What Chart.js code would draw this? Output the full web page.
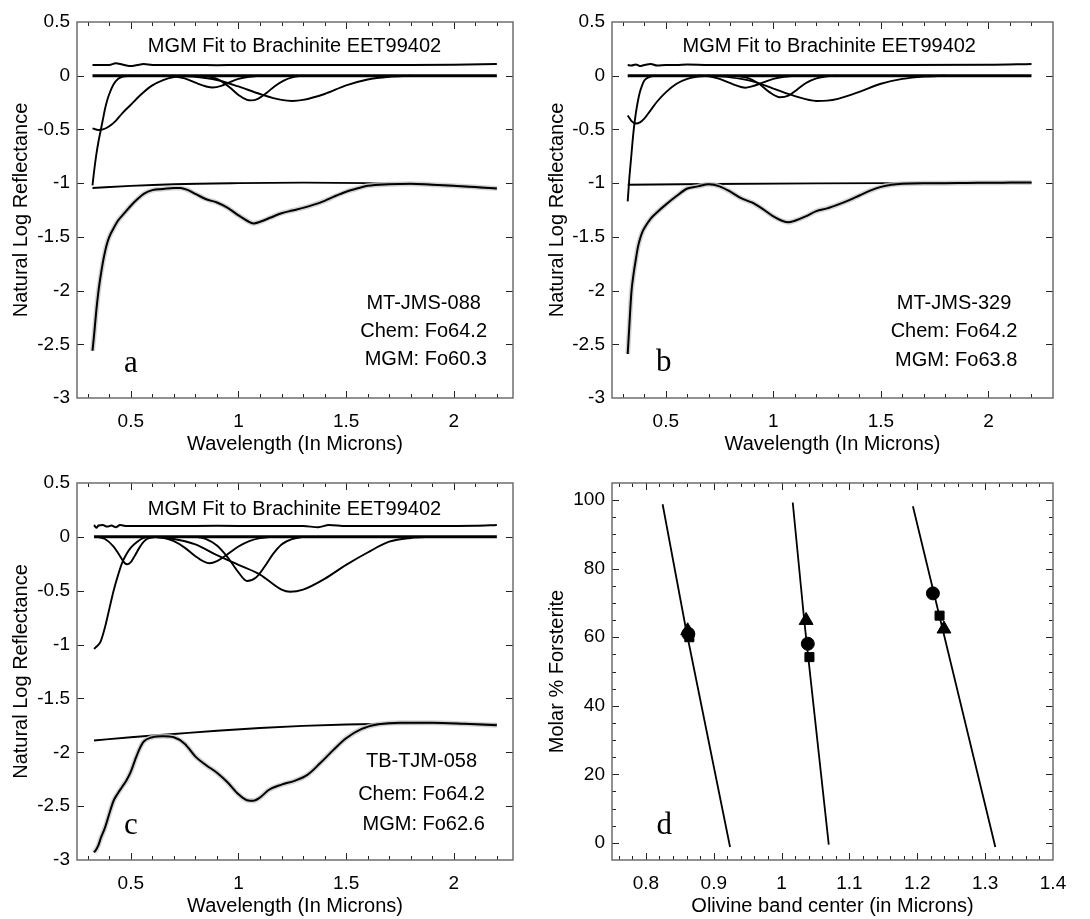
<!DOCTYPE html>
<html>
<head>
<meta charset="utf-8">
<script src="https://cdn.jsdelivr.net/npm/chart.js@4.4.0/dist/chart.umd.min.js"></script>
<style>
  html, body { margin: 0; padding: 0; background: #fff; width: 1090px; height: 919px; overflow: hidden; }
  canvas { position: absolute; }
</style>
</head>
<body>
<canvas id="chartA" width="545" height="462" style="left:0;top:0;width:545px;height:462px"></canvas>
<canvas id="chartB" width="545" height="462" style="left:545px;top:0;width:545px;height:462px"></canvas>
<canvas id="chartC" width="545" height="470" style="left:0;top:455px;width:545px;height:470px"></canvas>
<canvas id="chartD" width="545" height="470" style="left:545px;top:455px;width:545px;height:470px"></canvas>
<script>
const FONT = "'Liberation Sans', Arial, Helvetica, sans-serif";
const SERIF = "'Liberation Serif', 'Times New Roman', serif";

// tick labels
const wlTicks = [0.5, 1, 1.5, 2];
const lnTicks = [-3, -2.5, -2, -1.5, -1, -0.5, 0, 0.5];
const bandTicks = [0.8, 0.9, 1, 1.1, 1.2, 1.3, 1.4];
const foTicks = [0, 20, 40, 60, 80, 100];

// ---- panel a : MT-JMS-088 ----
const aSpecWl = [0.322, 0.33, 0.34, 0.35, 0.36, 0.37, 0.38, 0.39, 0.40, 0.42, 0.44, 0.47, 0.50, 0.53, 0.56, 0.60, 0.65, 0.70, 0.73, 0.76, 0.80, 0.85, 0.90, 0.95, 1.00, 1.04, 1.07, 1.10, 1.15, 1.20, 1.25, 1.30, 1.35, 1.40, 1.45, 1.50, 1.55, 1.60, 1.70, 1.80, 1.90, 2.00, 2.10, 2.20];
const aSpecVal = [-2.56, -2.40, -2.18, -2.00, -1.86, -1.74, -1.64, -1.56, -1.50, -1.42, -1.35, -1.28, -1.21, -1.15, -1.10, -1.065, -1.055, -1.045, -1.045, -1.06, -1.10, -1.15, -1.18, -1.23, -1.30, -1.35, -1.375, -1.36, -1.32, -1.28, -1.255, -1.23, -1.20, -1.165, -1.12, -1.08, -1.05, -1.025, -1.01, -1.005, -1.015, -1.025, -1.035, -1.05];
const aContWl = [0.322, 0.5, 0.7, 1.0, 1.3, 1.6, 1.9, 2.2];
const aContVal = [-1.045, -1.025, -1.01, -1.0, -0.995, -1.0, -1.015, -1.05];
const aResWl = [0.322, 0.36, 0.40, 0.43, 0.45, 0.48, 0.50, 0.53, 0.56, 0.60, 0.70, 0.80, 0.90, 1.0, 1.2, 1.4, 1.6, 1.8, 2.0, 2.2];
const aResVal = [0.10, 0.10, 0.10, 0.115, 0.11, 0.095, 0.09, 0.10, 0.108, 0.10, 0.10, 0.10, 0.098, 0.10, 0.10, 0.10, 0.10, 0.10, 0.102, 0.11];
const aUvWl = [0.322, 0.33, 0.34, 0.35, 0.36, 0.37, 0.38, 0.39, 0.40, 0.42, 0.44, 0.46, 0.50];
const aUvVal = [-1.02, -0.88, -0.73, -0.61, -0.51, -0.41, -0.31, -0.23, -0.17, -0.08, -0.03, -0.01, 0];
const aB036Wl = [0.322, 0.35, 0.37, 0.40, 0.43, 0.46, 0.50, 0.55, 0.60, 0.65, 0.70, 0.75];
const aB036Val = [-0.49, -0.505, -0.50, -0.47, -0.42, -0.35, -0.27, -0.17, -0.09, -0.04, -0.012, 0];
const aB087Wl = [0.65, 0.70, 0.75, 0.80, 0.85, 0.88, 0.92, 0.96, 1.0, 1.05, 1.1];
const aB087Val = [0, -0.005, -0.025, -0.065, -0.10, -0.11, -0.095, -0.06, -0.03, -0.01, 0];
const aB105Wl = [0.82, 0.88, 0.92, 0.96, 1.0, 1.04, 1.06, 1.09, 1.13, 1.17, 1.21, 1.25, 1.3];
const aB105Val = [0, -0.015, -0.05, -0.11, -0.18, -0.225, -0.23, -0.215, -0.16, -0.095, -0.045, -0.015, 0];
const aB124Wl = [0.7, 0.8, 0.9, 1.0, 1.1, 1.2, 1.25, 1.3, 1.4, 1.5, 1.6, 1.7, 1.8];
const aB124Val = [0, -0.01, -0.04, -0.10, -0.17, -0.225, -0.235, -0.225, -0.17, -0.09, -0.035, -0.01, 0];

// ---- panel b : MT-JMS-329 ----
const bSpecWl = [0.323, 0.33, 0.34, 0.35, 0.36, 0.37, 0.38, 0.39, 0.40, 0.43, 0.46, 0.50, 0.55, 0.60, 0.65, 0.70, 0.75, 0.80, 0.85, 0.90, 0.95, 1.00, 1.04, 1.07, 1.10, 1.15, 1.20, 1.25, 1.30, 1.35, 1.40, 1.45, 1.50, 1.55, 1.60, 1.70, 1.80, 1.90, 2.00, 2.10, 2.20];
const bSpecVal = [-2.59, -2.35, -2.02, -1.85, -1.72, -1.60, -1.52, -1.46, -1.42, -1.33, -1.27, -1.20, -1.12, -1.05, -1.03, -1.01, -1.03, -1.08, -1.14, -1.18, -1.24, -1.31, -1.35, -1.365, -1.35, -1.31, -1.26, -1.235, -1.20, -1.16, -1.115, -1.07, -1.035, -1.015, -1.005, -1.0, -1.0, -0.998, -0.997, -0.995, -0.993];
const bContWl = [0.323, 0.7, 1.2, 1.7, 2.2];
const bContVal = [-1.015, -1.008, -1.002, -0.999, -0.996];
const bResWl = [0.323, 0.34, 0.36, 0.38, 0.40, 0.43, 0.46, 0.50, 0.55, 0.60, 0.70, 1.0, 1.5, 2.0, 2.2];
const bResVal = [0.10, 0.095, 0.105, 0.09, 0.10, 0.11, 0.095, 0.10, 0.10, 0.105, 0.10, 0.10, 0.10, 0.102, 0.11];
const bUvWl = [0.323, 0.33, 0.34, 0.35, 0.36, 0.37, 0.38, 0.39, 0.40, 0.42, 0.45];
const bUvVal = [-1.17, -0.97, -0.74, -0.52, -0.36, -0.24, -0.15, -0.09, -0.045, -0.015, 0];
const bB036Wl = [0.323, 0.34, 0.36, 0.38, 0.40, 0.43, 0.46, 0.50, 0.55, 0.60, 0.65, 0.70];
const bB036Val = [-0.37, -0.42, -0.445, -0.435, -0.40, -0.32, -0.24, -0.155, -0.075, -0.03, -0.008, 0];
const bB087Wl = [0.65, 0.70, 0.75, 0.80, 0.85, 0.87, 0.90, 0.95, 1.0, 1.05, 1.1];
const bB087Val = [0, -0.005, -0.03, -0.07, -0.105, -0.112, -0.10, -0.065, -0.03, -0.01, 0];
const bB105Wl = [0.82, 0.88, 0.93, 0.98, 1.03, 1.07, 1.11, 1.15, 1.2, 1.25, 1.3];
const bB105Val = [0, -0.02, -0.07, -0.15, -0.20, -0.185, -0.13, -0.07, -0.025, -0.005, 0];
const bB124Wl = [0.7, 0.8, 0.9, 1.0, 1.1, 1.2, 1.25, 1.3, 1.4, 1.5, 1.6, 1.7, 1.8];
const bB124Val = [0, -0.015, -0.05, -0.12, -0.19, -0.235, -0.232, -0.215, -0.15, -0.075, -0.03, -0.008, 0];

// ---- panel c : TB-TJM-058 ----
const cSpecWl = [0.329, 0.34, 0.35, 0.36, 0.38, 0.40, 0.42, 0.44, 0.46, 0.48, 0.50, 0.52, 0.54, 0.56, 0.60, 0.65, 0.70, 0.75, 0.80, 0.85, 0.90, 0.95, 1.00, 1.04, 1.07, 1.10, 1.14, 1.20, 1.26, 1.32, 1.38, 1.44, 1.50, 1.57, 1.65, 1.75, 1.90, 2.05, 2.20];
const cSpecVal = [-2.93, -2.90, -2.86, -2.80, -2.70, -2.57, -2.45, -2.38, -2.32, -2.26, -2.18, -2.07, -1.97, -1.90, -1.86, -1.85, -1.86, -1.92, -2.04, -2.12, -2.19, -2.28, -2.39, -2.445, -2.45, -2.42, -2.35, -2.30, -2.265, -2.21, -2.10, -1.98, -1.87, -1.785, -1.74, -1.725, -1.725, -1.735, -1.75];
const cContWl = [0.329, 0.5, 0.7, 0.9, 1.1, 1.3, 1.5, 1.7, 1.9, 2.2];
const cContVal = [-1.89, -1.86, -1.83, -1.80, -1.775, -1.755, -1.742, -1.735, -1.732, -1.74];
const cResWl = [0.329, 0.34, 0.35, 0.37, 0.39, 0.41, 0.43, 0.45, 0.48, 0.55, 0.7, 0.9, 1.1, 1.3, 1.37, 1.42, 1.5, 1.7, 1.9, 2.1, 2.2];
const cResVal = [0.11, 0.085, 0.105, 0.11, 0.095, 0.105, 0.09, 0.11, 0.10, 0.10, 0.10, 0.102, 0.10, 0.10, 0.09, 0.11, 0.10, 0.10, 0.10, 0.102, 0.11];
const cUvWl = [0.329, 0.34, 0.35, 0.36, 0.38, 0.40, 0.42, 0.44, 0.46, 0.48, 0.50, 0.53, 0.56, 0.60];
const cUvVal = [-1.04, -1.02, -1.0, -0.97, -0.84, -0.67, -0.50, -0.36, -0.24, -0.16, -0.10, -0.045, -0.01, 0];
const cB048Wl = [0.34, 0.38, 0.42, 0.45, 0.47, 0.485, 0.50, 0.52, 0.54, 0.56, 0.58, 0.62];
const cB048Val = [0, -0.02, -0.09, -0.18, -0.24, -0.255, -0.235, -0.17, -0.10, -0.045, -0.015, 0];
const cB087Wl = [0.6, 0.65, 0.70, 0.75, 0.80, 0.84, 0.865, 0.90, 0.95, 1.0, 1.05, 1.1, 1.15];
const cB087Val = [0, -0.01, -0.04, -0.10, -0.18, -0.23, -0.245, -0.225, -0.16, -0.09, -0.04, -0.012, 0];
const cB105Wl = [0.8, 0.85, 0.9, 0.95, 1.0, 1.04, 1.08, 1.12, 1.16, 1.2, 1.25, 1.3];
const cB105Val = [0, -0.02, -0.08, -0.19, -0.33, -0.41, -0.38, -0.28, -0.16, -0.07, -0.02, 0];
const cB124Wl = [0.6, 0.7, 0.8, 0.9, 1.0, 1.1, 1.2, 1.24, 1.3, 1.4, 1.5, 1.6, 1.7, 1.8, 1.9];
const cB124Val = [0, -0.02, -0.07, -0.17, -0.26, -0.35, -0.49, -0.51, -0.49, -0.39, -0.26, -0.145, -0.045, -0.01, 0];

// zero baselines
const aZeroWl = [0.322, 2.2];
const bZeroWl = [0.323, 2.2];
const cZeroWl = [0.329, 2.2];
const zeroVal = [0, 0];

// ---- panel d : Fo vs band centre ----
const line1Center = [0.8246, 0.859, 0.924];
const line1Fo = [98.8, 62.4, -1.2];
const line2Center = [1.0164, 1.0336, 1.0695];
const line2Fo = [99.3, 64.4, -0.5];
const line3Center = [1.1935, 1.2253, 1.315];
const line3Fo = [98.2, 72.2, -1.2];
const circleCenter = [0.8625, 1.0386, 1.223];
const circleFo = [61.0, 58.1, 72.8];
const squareCenter = [0.864, 1.041, 1.2328];
const squareFo = [60.0, 54.2, 66.3];
const triangleCenter = [0.8615, 1.0361, 1.2393];
const triangleFo = [61.9, 64.9, 62.4];

function pts(xs, ys) {
  return xs.map((x, i) => ({ x: x, y: ys[i] }));
}

function curve(xs, ys, color, width, smooth) {
  return {
    data: pts(xs, ys),
    showLine: true,
    borderColor: color,
    borderWidth: width,
    pointRadius: 0,
    fill: false,
    cubicInterpolationMode: smooth === false ? 'default' : 'monotone'
  };
}

function marks(xs, ys, style, r) {
  return {
    data: pts(xs, ys),
    showLine: false,
    pointStyle: style,
    pointRadius: r,
    backgroundColor: '#000',
    borderColor: '#000',
    borderWidth: 1
  };
}

function steps(from, to, step) {
  const out = [];
  const n = Math.round((to - from) / step);
  for (let i = 0; i <= n; i++) out.push(+(from + i * step).toFixed(4));
  return out;
}

// frame, inward ticks and text notes
function decor(cfg) {
  return {
    id: 'decor',
    afterDatasetsDraw(chart) {
      const ctx = chart.ctx;
      const ca = chart.chartArea;
      const xs = chart.scales.x, ys = chart.scales.y;
      ctx.save();
      ctx.strokeStyle = '#222';
      ctx.lineWidth = 1;
      ctx.beginPath();
      const xt = (vals, len) => vals.forEach(v => {
        const p = Math.round(xs.getPixelForValue(v)) + 0.5;
        if (p <= ca.left + 1 || p >= ca.right - 1) return;
        ctx.moveTo(p, ca.bottom); ctx.lineTo(p, ca.bottom - len);
        ctx.moveTo(p, ca.top); ctx.lineTo(p, ca.top + len);
      });
      const yt = (vals, len) => vals.forEach(v => {
        const p = Math.round(ys.getPixelForValue(v)) + 0.5;
        if (p <= ca.top + 1 || p >= ca.bottom - 1) return;
        ctx.moveTo(ca.left, p); ctx.lineTo(ca.left + len, p);
        ctx.moveTo(ca.right, p); ctx.lineTo(ca.right - len, p);
      });
      xt(cfg.xMajor, 7);
      xt(cfg.xMinor, 4);
      yt(cfg.yMajor, 7);
      yt(cfg.yMinor, 4);
      ctx.stroke();

      ctx.strokeStyle = '#6e6e6e';
      ctx.lineWidth = 1.5;
      ctx.strokeRect(ca.left, ca.top, ca.right - ca.left, ca.bottom - ca.top);

      ctx.fillStyle = '#000';
      ctx.textBaseline = 'alphabetic';
      cfg.notes.forEach(n => {
        ctx.font = n.font;
        ctx.textAlign = n.align || 'center';
        ctx.fillText(n.text, xs.getPixelForValue(n.x), ys.getPixelForValue(n.y));
      });
      ctx.restore();
    }
  };
}

function axisTitle(text, pad) {
  return { display: true, text: text, color: '#000', font: { family: FONT, size: 20 }, padding: pad };
}

function tickOpts(pad) {
  return {
    color: '#000',
    font: { family: FONT, size: 19 },
    padding: pad,
    autoSkip: false,
    maxRotation: 0,
    callback: v => String(v)
  };
}

function makeChart(id, g, datasets, notes) {
  return new Chart(document.getElementById(id), {
    type: 'scatter',
    data: { datasets: datasets },
    options: {
      responsive: false,
      animation: false,
      events: [],
      layout: { padding: { top: g.top, right: g.right, left: 0, bottom: 0 } },
      plugins: { legend: { display: false }, tooltip: { enabled: false } },
      scales: {
        x: {
          type: 'linear', min: g.xMin, max: g.xMax,
          grid: { display: false, drawTicks: false },
          border: { display: false },
          afterBuildTicks: s => { s.ticks = g.xTicks.map(v => ({ value: v })); },
          afterFit: s => { s.height = g.xH; },
          ticks: tickOpts(12),
          title: axisTitle(g.xTitle, { top: 0, bottom: g.xTitlePad })
        },
        y: {
          type: 'linear', min: g.yMin, max: g.yMax,
          grid: { display: false, drawTicks: false },
          border: { display: false },
          afterBuildTicks: s => { s.ticks = g.yTicks.map(v => ({ value: v })); },
          afterFit: s => { s.width = g.yW; },
          ticks: tickOpts(7),
          title: axisTitle(g.yTitle, { top: g.yTitlePad, bottom: 0 })
        }
      }
    },
    plugins: [decor({
      xMajor: g.xTicks, xMinor: g.xMinor, yMajor: g.yTicks, yMinor: g.yMinor, notes: notes
    })]
  });
}

const BLACK = '#000';
const HALO = 'rgba(200,200,200,0.8)';
const titleNote = 'MGM Fit to Brachinite EET99402';
const noteFont = '20px ' + FONT;
const letterFont = '31px ' + SERIF;

// Chart.js paints the first dataset last, so the list goes top layer first
function spectralSets(zeroWl, uv, bands, res, cont, spec) {
  const sets = [
    curve(spec[0], spec[1], BLACK, 2),
    curve(spec[0], spec[1], HALO, 5),
    curve(zeroWl, zeroVal, BLACK, 3, false),
    curve(cont[0], cont[1], BLACK, 1.9),
    curve(res[0], res[1], BLACK, 2),
    curve(uv[0], uv[1], BLACK, 1.9)
  ];
  bands.forEach(b => sets.push(curve(b[0], b[1], BLACK, 1.9)));
  return sets;
}

const wlMinor = steps(0.3, 2.2, 0.1);

makeChart('chartA', {
  top: 22, right: 32, yW: 77, xH: 64, xMin: 0.25, xMax: 2.275, yMin: -3, yMax: 0.5,
  xTicks: wlTicks, yTicks: lnTicks, xMinor: wlMinor, yMinor: [],
  xTitle: 'Wavelength (In Microns)', yTitle: 'Natural Log Reflectance', xTitlePad: 6, yTitlePad: 9
}, spectralSets(aZeroWl, [aUvWl, aUvVal],
  [[aB036Wl, aB036Val], [aB087Wl, aB087Val], [aB105Wl, aB105Val], [aB124Wl, aB124Val]],
  [aResWl, aResVal], [aContWl, aContVal], [aSpecWl, aSpecVal]), [
  { text: titleNote, x: 1.26, y: 0.22, font: noteFont },
  { text: 'MT-JMS-088', x: 1.86, y: -2.17, font: noteFont },
  { text: 'Chem: Fo64.2', x: 1.86, y: -2.43, font: noteFont },
  { text: 'MGM: Fo60.3', x: 1.87, y: -2.69, font: noteFont },
  { text: 'a', x: 0.5, y: -2.76, font: letterFont }
]);

makeChart('chartB', {
  top: 22, right: 37, yW: 67, xH: 64, xMin: 0.25, xMax: 2.3, yMin: -3, yMax: 0.5,
  xTicks: wlTicks, yTicks: lnTicks, xMinor: wlMinor, yMinor: [],
  xTitle: 'Wavelength (In Microns)', yTitle: 'Natural Log Reflectance', xTitlePad: 6, yTitlePad: 0
}, spectralSets(bZeroWl, [bUvWl, bUvVal],
  [[bB036Wl, bB036Val], [bB087Wl, bB087Val], [bB105Wl, bB105Val], [bB124Wl, bB124Val]],
  [bResWl, bResVal], [bContWl, bContVal], [bSpecWl, bSpecVal]), [
  { text: titleNote, x: 1.26, y: 0.22, font: noteFont },
  { text: 'MT-JMS-329', x: 1.84, y: -2.17, font: noteFont },
  { text: 'Chem: Fo64.2', x: 1.84, y: -2.43, font: noteFont },
  { text: 'MGM: Fo63.8', x: 1.85, y: -2.70, font: noteFont },
  { text: 'b', x: 0.49, y: -2.75, font: letterFont }
]);

makeChart('chartC', {
  top: 28, right: 32, yW: 77, xH: 65, xMin: 0.25, xMax: 2.275, yMin: -3, yMax: 0.5,
  xTicks: wlTicks, yTicks: lnTicks, xMinor: wlMinor, yMinor: [],
  xTitle: 'Wavelength (In Microns)', yTitle: 'Natural Log Reflectance', xTitlePad: 7, yTitlePad: 9
}, spectralSets(cZeroWl, [cUvWl, cUvVal],
  [[cB048Wl, cB048Val], [cB087Wl, cB087Val], [cB105Wl, cB105Val], [cB124Wl, cB124Val]],
  [cResWl, cResVal], [cContWl, cContVal], [cSpecWl, cSpecVal]), [
  { text: titleNote, x: 1.26, y: 0.2, font: noteFont },
  { text: 'TB-TJM-058', x: 1.85, y: -2.14, font: noteFont },
  { text: 'Chem: Fo64.2', x: 1.85, y: -2.44, font: noteFont },
  { text: 'MGM: Fo62.6', x: 1.86, y: -2.72, font: noteFont },
  { text: 'c', x: 0.5, y: -2.76, font: letterFont }
]);

makeChart('chartD', {
  top: 28, right: 37, yW: 67, xH: 65, xMin: 0.75, xMax: 1.4, yMin: -5, yMax: 105,
  xTicks: bandTicks, yTicks: foTicks, xMinor: steps(0.76, 1.4, 0.02), yMinor: steps(-5, 105, 5),
  xTitle: 'Olivine band center (in Microns)', yTitle: 'Molar % Forsterite', xTitlePad: 7, yTitlePad: 0
}, [
  marks(circleCenter, circleFo, 'circle', 6.5),
  marks(triangleCenter, triangleFo, 'triangle', 8),
  marks(squareCenter, squareFo, 'rect', 6.4),
  curve(line1Center, line1Fo, BLACK, 1.8, false),
  curve(line2Center, line2Fo, BLACK, 1.8, false),
  curve(line3Center, line3Fo, BLACK, 1.8, false)
], [
  { text: 'd', x: 0.827, y: 2.7, font: letterFont }
]);
</script>
</body>
</html>
